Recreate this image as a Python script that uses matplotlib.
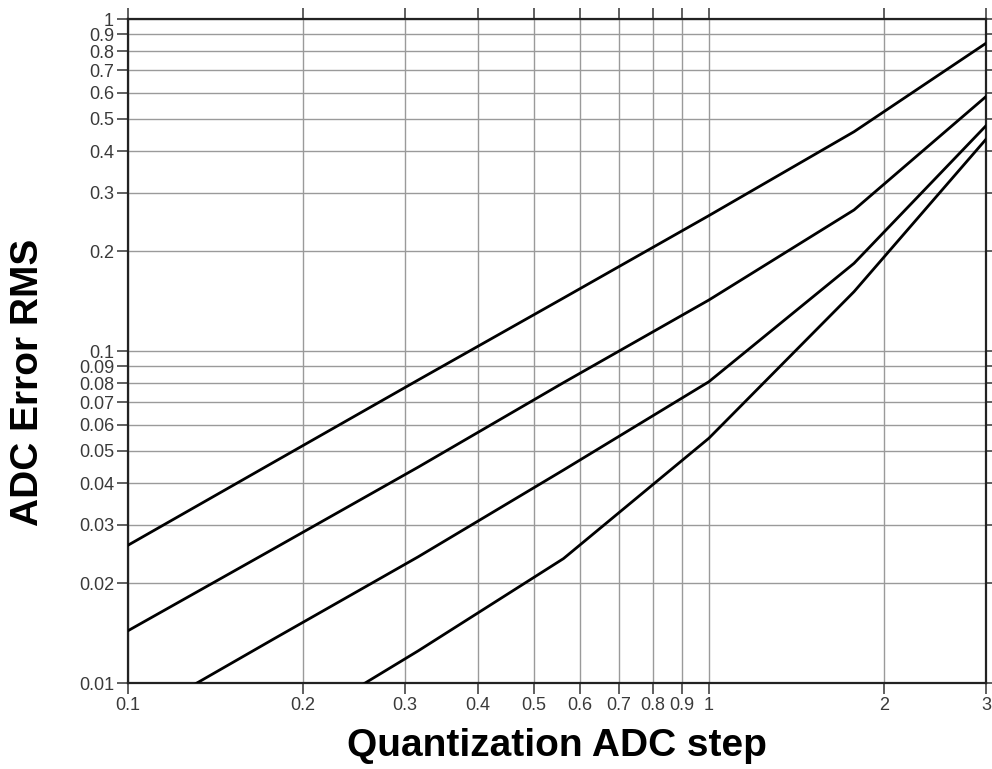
import matplotlib
matplotlib.use("Agg")
import matplotlib.pyplot as plt
from matplotlib.ticker import FixedLocator, FixedFormatter, NullLocator

plt.rcParams['font.family'] = ['Liberation Sans', 'DejaVu Sans']

# Quantization step sample points (log-spaced, 10^(k/4))
x_steps = [0.1, 0.178, 0.316, 0.562, 1.0, 1.778, 3.162]

# ADC Error RMS curves (top to bottom)
rms_curve1 = [0.0260, 0.0462, 0.0818, 0.1444, 0.2557, 0.4576, 0.899]
rms_curve2 = [0.01437, 0.02535, 0.0447, 0.0803, 0.1424, 0.266, 0.632]
rms_curve3 = [0.0076, 0.01356, 0.0240, 0.0438, 0.0808, 0.1837, 0.525]
rms_curve4 = [0.0040, 0.0068, 0.0125, 0.0237, 0.0546, 0.1509, 0.483]

x_ticks = [0.1, 0.2, 0.3, 0.4, 0.5, 0.6, 0.7, 0.8, 0.9, 1, 2, 3]
x_tick_labels = ['0.1', '0.2', '0.3', '0.4', '0.5', '0.6', '0.7', '0.8', '0.9', '1', '2', '3']
y_ticks = [0.01, 0.02, 0.03, 0.04, 0.05, 0.06, 0.07, 0.08, 0.09,
           0.1, 0.2, 0.3, 0.4, 0.5, 0.6, 0.7, 0.8, 0.9, 1]
y_tick_labels = ['0.01', '0.02', '0.03', '0.04', '0.05', '0.06', '0.07', '0.08', '0.09',
                 '0.1', '0.2', '0.3', '0.4', '0.5', '0.6', '0.7', '0.8', '0.9', '1']

fig = plt.figure(figsize=(9.92, 7.69), dpi=100)
ax = fig.add_axes([128/992, 1 - 683/769, (986-128)/992, (683-19)/769])

ax.set_xscale('log')
ax.set_yscale('log')
ax.set_xlim(0.1, 3)
ax.set_ylim(0.01, 1)

for curve in (rms_curve1, rms_curve2, rms_curve3, rms_curve4):
    ax.plot(x_steps, curve, color='black', lw=2.0, solid_joinstyle='round', zorder=3)

ax.xaxis.set_major_locator(FixedLocator(x_ticks))
ax.xaxis.set_major_formatter(FixedFormatter(x_tick_labels))
ax.xaxis.set_minor_locator(NullLocator())
ax.yaxis.set_major_locator(FixedLocator(y_ticks))
ax.yaxis.set_major_formatter(FixedFormatter(y_tick_labels))
ax.yaxis.set_minor_locator(NullLocator())

ax.grid(True, which='major', color='#9a9a9a', lw=1.0)
ax.set_axisbelow(True)

for s in ax.spines.values():
    s.set_linewidth(1.6)
    s.set_color('#222222')

ax.tick_params(axis='both', which='major', direction='out', length=8, width=1.2,
               color='#444444', labelsize=13, labelcolor='#3a3a3a',
               top=True, right=True, labeltop=False, labelright=False, pad=2)

ax.set_xlabel('Quantization ADC step', fontsize=28, fontweight='bold')
ax.xaxis.set_label_coords(0.5, (683 - 728) / 664)
ax.set_ylabel('ADC Error RMS', fontsize=28, fontweight='bold')
ax.yaxis.set_label_coords((46 - 128) / 858, (683 - 382) / 664)

fig.savefig('out.png', dpi=100)
